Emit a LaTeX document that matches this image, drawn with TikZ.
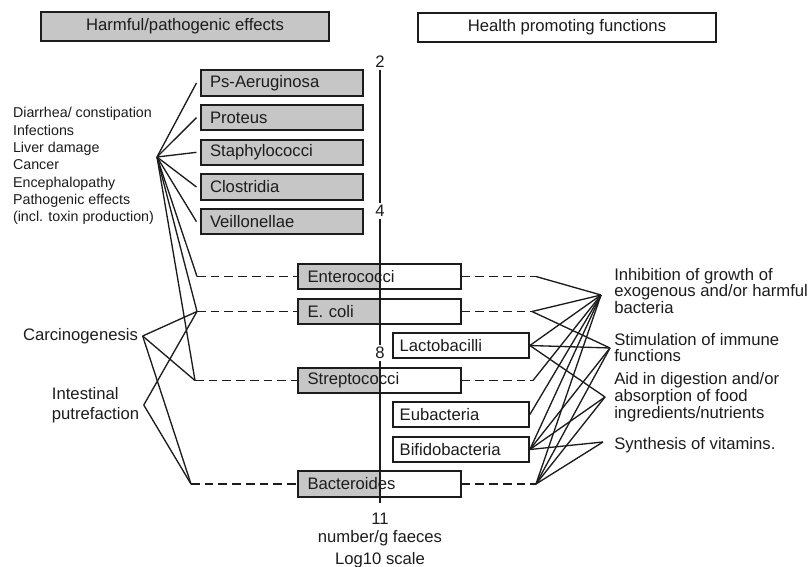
\documentclass[tikz,border=0pt]{standalone}
\usepackage{fontspec}
\setmainfont{Liberation Sans}
\usetikzlibrary{positioning,backgrounds}
\definecolor{boxgray}{RGB}{198,198,198}
\definecolor{ink}{RGB}{28,28,28}

\begin{document}
\begin{tikzpicture}[x=0.75pt, y=-0.75pt, node distance=26pt,
    every node/.style={text=ink, font=\fontsize{12.5}{12.6}\selectfont},
    small/.style={font=\fontsize{10.7}{13}\selectfont},
    header/.style={draw=ink, line width=1.3pt, minimum height=22pt},
    bact/.style={draw=ink, line width=1.3pt, minimum height=19pt, inner xsep=7pt, text width=108pt, align=left},
    goodbox/.style={draw=ink, line width=1.3pt, fill=white, minimum height=19pt, inner xsep=5pt, text width=92pt, align=left},
    tick/.style={inner sep=1.5pt},
    link/.style={draw=ink, line width=1pt},
    dlink/.style={link, line width=1.1pt, dash pattern=on 6.5pt off 3.8pt}]
    \useasboundingbox (0,0) rectangle (811,567);

    % headers
    \node[header, fill=boxgray, minimum width=216pt] (harm) at (185,26.5) {Harmful/pathogenic effects};
    \node[header, fill=white, minimum width=223.5pt] (health) at (567,27.5) {Health promoting functions};

    % harmful bacteria
    \node[bact, fill=boxgray] (psa) at (282,83) {Ps-Aeruginosa};
    \node[bact, fill=boxgray] (pro) [below of=psa] {Proteus};
    \node[bact, fill=boxgray] (sta) [below of=pro] {Staphylococci};
    \node[bact, fill=boxgray] (clo) [below of=sta] {Clostridia};
    \node[bact, fill=boxgray] (vei) [below of=clo] {Veillonellae};

    % bacteria with both sides
    \node[bact] (ent) at (379.5,276.5) {Enterococci};
    \node[bact] (eco) [below of=ent, node distance=26.25pt] {E. coli};
    \node[bact] (str) at (379.5,380.5) {Streptococci};
    \node[bact] (bac) at (379.5,484) {Bacteroides};

    % beneficial bacteria
    \node[goodbox] (lac) at (461,345.5) {Lactobacilli};
    \node[goodbox] (eub) at (461,414.5) {Eubacteria};
    \node[goodbox] (bif) [below of=eub, node distance=26.25pt] {Bifidobacteria};

    \begin{scope}[on background layer]
      \foreach \b in {ent,eco,str,bac}
        \fill[boxgray] (\b.south west) rectangle (\b.north -| 380,0);
    \end{scope}

    % scale
    \node[tick] (n2) at (380,62) {2};
    \node[tick] (n4) at (380,211) {4};
    \node[tick] (n8) at (380,353) {8};
    \node[tick] (n11) at (380,519) {11};
    \node[align=center, font=\fontsize{12.5}{16.5}\selectfont] (unit) at (380,549) {number/g faeces\\Log10 scale};
    \draw[link, line width=1.1pt] (n2) -- (n4) -- (n8) -- ([yshift=6pt]n11.north);

    % effects (left)
    \node[small, align=left] (eff) at (83.5,166) {Diarrhea/ constipation\\Infections\\Liver damage\\Cancer\\Encephalopathy\\Pathogenic effects\\(incl. toxin production)};
    \node (carc) at (80.5,336) {Carcinogenesis};
    \node[align=left, font=\fontsize{12.5}{15}\selectfont] (putr) at (95.5,405) {Intestinal\\putrefaction};

    % functions (right)
    \node[anchor=west, inner xsep=0pt, align=left] (inh) at (614,291) {Inhibition of growth of\\exogenous and/or harmful\\bacteria};
    \node[anchor=west, inner xsep=0pt, align=left] (imm) at (614,347.5) {Stimulation of immune\\functions};
    \node[anchor=west, inner xsep=0pt, align=left] (dig) at (614,397) {Aid in digestion and/or\\absorption of food\\ingredients/nutrients};
    \node[anchor=west, inner xsep=0pt, align=left] (vit) at (614,445) {Synthesis of vitamins.};

    \coordinate (pl) at (157,157);
    \coordinate (pent) at (197,276.5);
    \coordinate (peco) at (197,311.5);
    \coordinate (pstr) at (195,380.5);
    \coordinate (pbac) at (191,484);
    \coordinate (qent) at (536,276.5);
    \coordinate (qeco) at (532,311.5);
    \coordinate (qstr) at (533,380.5);
    \coordinate (qbac) at (536,484);
    \coordinate (f1) at (601,295);
    \coordinate (f2) at (610,348);
    \coordinate (f3) at (605,397);
    \coordinate (f4) at (603,442);

    % left connectors
    \foreach \b in {psa,pro,sta,clo,vei}
      \draw[link] (pl) -- ([xshift=-2.5pt]\b.west);
    \draw[link] (pl) -- (pent);
    \draw[link] (pl) -- (peco);
    \draw[link] (pl) -- (pstr);
    \draw[link] (carc.east) -- (peco);
    \draw[link] (carc.east) -- (pstr);
    \draw[link] (carc.east) -- (pbac);
    \draw[link] (putr.east) -- (peco);
    \draw[link] (putr.east) -- (pbac);
    \draw[dlink] (pent) -- (ent);
    \draw[dlink] (peco) -- (eco);
    \draw[dlink] (pstr) -- (str);
    \draw[dlink] (pbac) -- (bac);

    % right connectors
    \draw[dlink] (ent) -- (qent);
    \draw[dlink] (eco) -- (qeco);
    \draw[dlink] (str) -- (qstr);
    \draw[dlink] (bac) -- (qbac);
    \draw[link] (qent) -- (f1);
    \draw[link] (qeco) -- (f1);
    \draw[link] (qeco) -- (f2);
    \draw[link] (lac.east) -- (f1);
    \draw[link] (lac.east) -- (f2);
    \draw[link] (lac.east) -- (f3);
    \draw[link] (qstr) -- (f1);
    \draw[link] (eub.east) -- (f1);
    \foreach \f in {f1,f2,f3,f4} {
      \draw[link] (bif.east) -- (\f);
      \draw[link] (qbac) -- (\f);
    }
\end{tikzpicture}
\end{document}
